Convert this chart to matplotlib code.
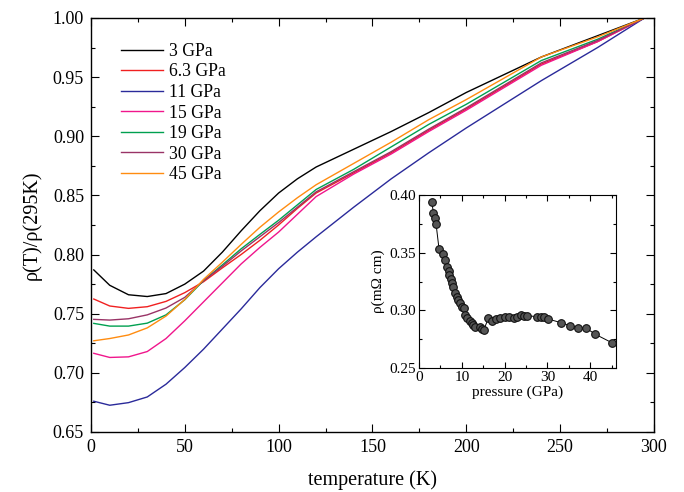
import matplotlib
matplotlib.use("Agg")
import matplotlib.pyplot as plt
from matplotlib.ticker import MultipleLocator

plt.rcParams['font.family'] = ['Liberation Serif', 'DejaVu Serif']

# Temperature grid (K)
temp = [1.5, 10, 20, 30, 40, 50, 60, 70, 80, 90, 100, 110, 120, 140, 160, 180, 200, 240, 270, 295]

# Normalised resistivity rho(T)/rho(295K) for each pressure
r_3 = [0.787, 0.774, 0.766, 0.7645, 0.767, 0.775, 0.786, 0.802, 0.820, 0.837, 0.852, 0.864,
       0.874, 0.889, 0.904, 0.920, 0.937, 0.967, 0.985, 1.0]
r_6_3 = [0.7624, 0.7565, 0.7545, 0.7559, 0.7604, 0.7678, 0.777, 0.7887, 0.800, 0.812, 0.825, 0.839,
         0.852, 0.869, 0.886, 0.905, 0.923, 0.961, 0.980, 1.0]
r_11 = [0.676, 0.6726, 0.6748, 0.6796, 0.6904, 0.7045, 0.720, 0.737, 0.754, 0.772, 0.788, 0.802,
        0.815, 0.840, 0.864, 0.886, 0.907, 0.947, 0.975, 1.0]
r_15 = [0.7165, 0.713, 0.7135, 0.718, 0.729, 0.744, 0.760, 0.776, 0.792, 0.806, 0.819, 0.834,
        0.849, 0.868, 0.885, 0.904, 0.922, 0.960, 0.980, 1.0]
r_19 = [0.7418, 0.7395, 0.7395, 0.742, 0.749, 0.7618, 0.778, 0.7912, 0.8048, 0.817, 0.829, 0.842,
        0.855, 0.872, 0.891, 0.910, 0.927, 0.964, 0.982, 1.0]
r_30 = [0.7452, 0.7446, 0.7457, 0.749, 0.7548, 0.7638, 0.778, 0.790, 0.803, 0.815, 0.827, 0.840,
        0.853, 0.870, 0.887, 0.906, 0.924, 0.962, 0.981, 1.0]
r_45 = [0.7271, 0.729, 0.732, 0.738, 0.748, 0.762, 0.779, 0.7935, 0.8085, 0.823, 0.836, 0.848,
        0.859, 0.877, 0.895, 0.914, 0.931, 0.967, 0.984, 1.0]

labels = ["3 GPa", "6.3 GPa", "11 GPa", "15 GPa", "19 GPa", "30 GPa", "45 GPa"]
colors = ["#000000", "#f02020", "#2a2a9a", "#f0168c", "#00a050", "#993366", "#ff8c10"]

# Inset: resistivity at low temperature vs pressure
pressure = [2.97, 3.36, 3.75, 3.98, 4.68, 5.7, 6.09, 6.64, 6.95, 7.1, 7.42, 7.73, 8.04, 8.43,
            8.82, 9.2, 9.6, 9.99, 10.4, 10.8, 11.2, 11.9, 12.3, 12.7, 13.1, 14.3, 14.7, 15.1,
            16.2, 17.0, 18.0, 19.0, 20.0, 20.9, 22.1, 22.9, 23.8, 24.6, 25.2, 27.6, 28.5, 29.1,
            30.1, 33.2, 35.2, 37.1, 39.1, 41.2, 45.0]
rho = [0.3943, 0.3847, 0.3798, 0.3749, 0.353, 0.3486, 0.3437, 0.3373, 0.3344, 0.3307, 0.3272,
       0.324, 0.320, 0.3148, 0.3119, 0.309, 0.3061, 0.3032, 0.3018, 0.296, 0.2931, 0.291,
       0.2888, 0.2873, 0.2853, 0.2858, 0.2836, 0.283, 0.2931, 0.291, 0.2922, 0.2931, 0.2945,
       0.2945, 0.2936, 0.2945, 0.296, 0.2954, 0.2954, 0.2945, 0.2945, 0.294, 0.2925, 0.2893,
       0.2867, 0.285, 0.2844, 0.2792, 0.272]

fig = plt.figure(figsize=(6.84, 4.92), dpi=100)
ax = fig.add_axes([0.133, 0.122, 0.823, 0.8415])

series = [r_3, r_6_3, r_11, r_15, r_19, r_30, r_45]
for vals, lab, col in zip(series, labels, colors):
    ax.plot(temp, vals, color=col, lw=1.0, label=lab)

ax.set_xlim(0, 300)
ax.set_ylim(0.65, 1.00)
ax.xaxis.set_major_locator(MultipleLocator(50))
ax.xaxis.set_minor_locator(MultipleLocator(25))
ax.yaxis.set_major_locator(MultipleLocator(0.05))
ax.yaxis.set_minor_locator(MultipleLocator(0.025))
ax.yaxis.set_major_formatter(plt.FormatStrFormatter('%.2f'))
ax.tick_params(which='both', direction='in', top=True, right=True, labelsize=13, width=0.8)
ax.tick_params(which='major', length=6, pad=5)
ax.tick_params(which='minor', length=3)
ax.set_xlabel("temperature (K)", fontsize=14.5, labelpad=10)
ax.set_ylabel("ρ(T)/ρ(295K)", fontsize=14.5, labelpad=8)
for s in ax.spines.values():
    s.set_linewidth(1.0)

leg = ax.legend(loc='upper left', bbox_to_anchor=(0.025, 0.978), frameon=False, fontsize=12.7,
                handlelength=2.4, handletextpad=0.35, labelspacing=0.2)

# inset
ins = fig.add_axes([0.6126, 0.252, 0.288, 0.3516])
ins.plot(pressure, rho, color='black', lw=0.7, marker='o', ms=5.5, mfc='#555555', mec='#111111', mew=0.8)
ins.set_xlim(0, 46)
ins.set_ylim(0.25, 0.40)
ins.xaxis.set_major_locator(MultipleLocator(10))
ins.xaxis.set_minor_locator(MultipleLocator(5))
ins.yaxis.set_major_locator(MultipleLocator(0.05))
ins.yaxis.set_minor_locator(MultipleLocator(0.025))
ins.yaxis.set_major_formatter(plt.FormatStrFormatter('%.2f'))
ins.tick_params(which='both', direction='in', top=True, right=True, labelsize=11, width=0.8, pad=2)
ins.tick_params(which='major', length=4)
ins.tick_params(which='minor', length=2)
ins.set_xlabel("pressure (GPa)", fontsize=11, labelpad=1)
ins.set_ylabel("ρ(mΩ cm)", fontsize=11, labelpad=3)

fig.savefig("out.png", dpi=100)
